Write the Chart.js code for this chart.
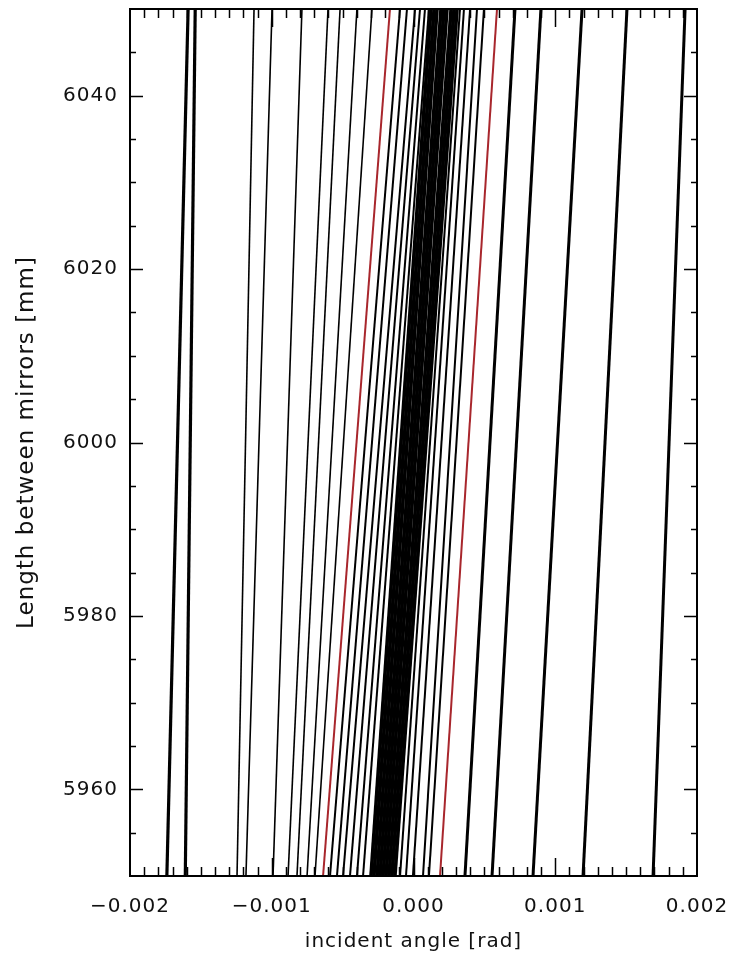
<!DOCTYPE html>
<html>
<head>
<meta charset="utf-8">
<script src="https://cdn.jsdelivr.net/npm/chart.js@4.4.0/dist/chart.umd.min.js"></script>
<style>
  html, body { margin: 0; padding: 0; background: #fff; }
</style>
</head>
<body>
<canvas id="chart" width="734" height="957"></canvas>
<script>
// every contour runs from the bottom of the plot to the top
const yEnds = [5950, 6050];

const xTicks = [-0.002, -0.001, 0.000, 0.001, 0.002];
const yTicks = [5960, 5980, 6000, 6020, 6040];

// heavy pair on the far left
const outerLeftBottom = [-0.00174, -0.00161];
const outerLeftTop    = [-0.00159, -0.00154];

// thin contours left of the red line
const thinLeftBottom = [-0.001245, -0.001182, -0.000991, -0.000885, -0.000822, -0.000751, -0.000695];
const thinLeftTop    = [-0.001125, -0.000998, -0.000787, -0.000603, -0.000518, -0.000399, -0.000293];

// between the left red line and the dark band
const innerLeftBottom = [-0.000589, -0.000540, -0.000497, -0.000448, -0.000399, -0.000356];
const innerLeftTop    = [-0.000095, -0.000046, 0.000011, 0.000046, 0.000081, 0.000109];

// the dark band in the middle
const bandBottom = [-0.000300, -0.000279, -0.000257, -0.000236, -0.000215, -0.000194, -0.000173, -0.000152, -0.000131];
const bandTop    = [0.000123, 0.000145, 0.000166, 0.000194, 0.000215, 0.000236, 0.000265, 0.000286, 0.000307];

// between the band and the right red line
const innerRightBottom = [-0.000095, -0.000053, -0.000004, 0.000067, 0.000109];
const innerRightTop    = [0.000328, 0.000356, 0.000399, 0.000448, 0.000497];

// heavy contours on the right
const outerRightBottom = [0.000363, 0.000554, 0.000843, 0.001196, 0.001690];
const outerRightTop    = [0.000716, 0.000899, 0.001189, 0.001506, 0.001916];

// the two red contours
const redBottom = [-0.000638, 0.000187];
const redTop    = [-0.000166, 0.000589];

// red specks hidden in the band
const speckBottom = [-0.000215];
const speckTop    = [0.000215];

function contours(bottom, top, color, width, dash) {
    return bottom.map((b, i) => ({
        data: [{ x: b, y: yEnds[0] }, { x: top[i], y: yEnds[1] }],
        showLine: true,
        borderColor: color,
        borderWidth: width,
        borderDash: dash || [],
        pointRadius: 0,
        fill: false,
    }));
}

const datasets = [].concat(
    contours(thinLeftBottom, thinLeftTop, '#000', 1.6),
    contours(outerLeftBottom, outerLeftTop, '#000', 3.2),
    contours(innerLeftBottom, innerLeftTop, '#000', 2),
    contours(bandBottom, bandTop, '#000', 3.6),
    contours(innerRightBottom, innerRightTop, '#000', 2),
    contours(outerRightBottom, outerRightTop, '#000', 3),
    contours(redBottom, redTop, '#a8262c', 2),
    contours(speckBottom, speckTop, '#6e1a1a', 1.5, [2, 14])
);

// the old plot font is wide, spread the letters a bit
const spacing = {
    id: 'spacing',
    beforeLayout(chart) { chart.ctx.letterSpacing = '1px'; },
    beforeDraw(chart) { chart.ctx.letterSpacing = '1px'; },
};

// box round the plot with inward ticks on all four sides
const frame = {
    id: 'frame',
    afterDatasetsDraw(chart) {
        const { ctx, chartArea: a, scales: { x, y } } = chart;
        ctx.save();
        ctx.strokeStyle = '#000';
        ctx.lineWidth = 2;
        ctx.strokeRect(a.left, a.top, a.right - a.left, a.bottom - a.top);
        ctx.lineWidth = 1.5;
        ctx.beginPath();
        for (let k = -19; k <= 19; k++) {
            const px = Math.round(x.getPixelForValue(k / 10000)) + 0.5;
            const len = k % 10 === 0 ? 18 : 9;
            ctx.moveTo(px, a.bottom); ctx.lineTo(px, a.bottom - len);
            ctx.moveTo(px, a.top); ctx.lineTo(px, a.top + len);
        }
        for (let v = 5955; v <= 6045; v += 5) {
            const py = Math.round(y.getPixelForValue(v)) + 0.5;
            const len = v % 20 === 0 ? 13 : 6;
            ctx.moveTo(a.left, py); ctx.lineTo(a.left + len, py);
            ctx.moveTo(a.right, py); ctx.lineTo(a.right - len, py);
        }
        ctx.stroke();
        ctx.restore();
    }
};

const tickFont = { family: "'DejaVu Sans', sans-serif", size: 20 };

new Chart(document.getElementById('chart'), {
    type: 'scatter',
    data: { datasets: datasets },
    options: {
        responsive: false,
        animation: false,
        layout: { padding: { left: 0, right: 37, top: 9, bottom: 0 } },
        plugins: { legend: { display: false }, tooltip: { enabled: false } },
        scales: {
            x: {
                type: 'linear',
                min: -0.002,
                max: 0.002,
                afterBuildTicks: s => { s.ticks = xTicks.map(v => ({ value: v })); },
                afterFit: s => { s.height = 81; s.paddingLeft = 0; s.paddingRight = 0; },
                grid: { display: false, drawTicks: false },
                border: { display: false },
                ticks: {
                    color: '#111',
                    font: tickFont,
                    padding: 19,
                    maxRotation: 0,
                    callback: v => v.toFixed(3).replace('-', '\u2212'),
                },
                title: {
                    display: true,
                    text: 'incident angle [rad]',
                    color: '#111',
                    font: { family: "'DejaVu Sans', sans-serif", size: 20 },
                    padding: { top: 0, bottom: 3 },
                },
            },
            y: {
                type: 'linear',
                min: 5950,
                max: 6050,
                afterBuildTicks: s => { s.ticks = yTicks.map(v => ({ value: v })); },
                afterFit: s => { s.width = 130; s.paddingTop = 0; s.paddingBottom = 0; },
                grid: { display: false, drawTicks: false },
                border: { display: false },
                ticks: {
                    color: '#111',
                    font: tickFont,
                    padding: 12,
                    callback: v => String(v),
                },
                title: {
                    display: true,
                    text: 'Length between mirrors [mm]',
                    color: '#111',
                    font: { family: "'DejaVu Sans', sans-serif", size: 23 },
                    padding: { top: 13, bottom: 0 },
                },
            },
        },
    },
    plugins: [spacing, frame],
});
</script>
</body>
</html>
